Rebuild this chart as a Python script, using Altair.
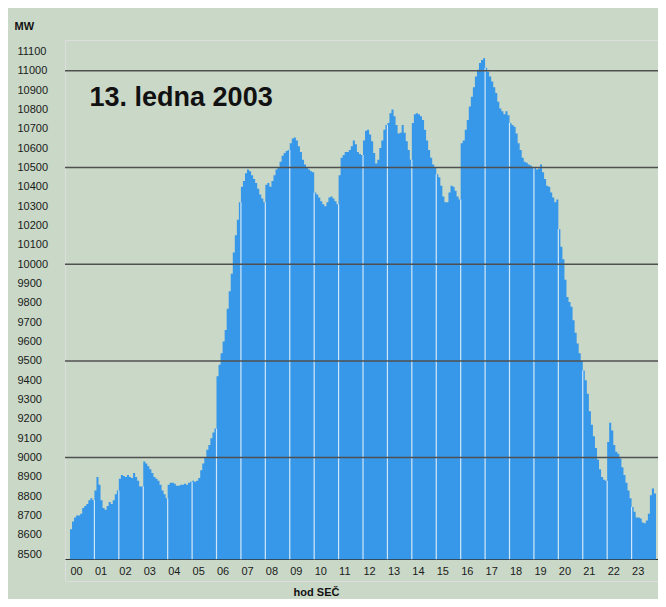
import altair as alt
import pandas as pd

# 5-minute load values (MW) per hour
h00 = [8630, 8670, 8690, 8700, 8700, 8710, 8740, 8750, 8760, 8780, 8790, 8780]
h01 = [8830, 8900, 8860, 8780, 8740, 8730, 8750, 8770, 8760, 8780, 8810, 8830]
h02 = [8890, 8910, 8905, 8900, 8910, 8900, 8895, 8920, 8900, 8880, 8850, 8850]
h03 = [8980, 8970, 8955, 8940, 8920, 8900, 8890, 8880, 8860, 8830, 8810, 8790]
h04 = [8860, 8870, 8870, 8865, 8855, 8855, 8860, 8860, 8865, 8860, 8870, 8875]
h05 = [8880, 8875, 8880, 8895, 8935, 8970, 9000, 9040, 9065, 9100, 9130, 9150]
h06 = [9420, 9480, 9540, 9600, 9660, 9770, 9860, 9950, 10060, 10150, 10230, 10320]
h07 = [10400, 10430, 10470, 10490, 10480, 10460, 10440, 10420, 10390, 10360, 10340, 10320]
h08 = [10410, 10420, 10400, 10430, 10460, 10490, 10500, 10530, 10560, 10575, 10585, 10590]
h09 = [10625, 10650, 10655, 10640, 10610, 10580, 10540, 10515, 10500, 10490, 10480, 10475]
h10 = [10370, 10360, 10345, 10325, 10310, 10300, 10320, 10345, 10350, 10340, 10325, 10310]
h11 = [10460, 10550, 10565, 10580, 10580, 10590, 10610, 10640, 10620, 10580, 10570, 10565]
h12 = [10640, 10690, 10695, 10670, 10635, 10575, 10520, 10540, 10600, 10640, 10695, 10720]
h13 = [10730, 10780, 10800, 10765, 10720, 10675, 10680, 10720, 10680, 10635, 10590, 10540]
h14 = [10730, 10775, 10780, 10775, 10765, 10745, 10695, 10640, 10590, 10550, 10515, 10500]
h15 = [10465, 10450, 10405, 10350, 10320, 10320, 10370, 10405, 10400, 10380, 10350, 10335]
h16 = [10625, 10640, 10695, 10745, 10815, 10865, 10915, 10970, 11005, 11040, 11055, 11065]
h17 = [11015, 10995, 10970, 10945, 10915, 10885, 10840, 10805, 10790, 10775, 10790, 10770]
h18 = [10730, 10720, 10710, 10675, 10625, 10590, 10550, 10530, 10525, 10515, 10510, 10500]
h19 = [10500, 10490, 10495, 10515, 10475, 10440, 10405, 10400, 10370, 10345, 10320, 10335]
h20 = [10180, 10090, 10025, 9920, 9830, 9805, 9780, 9710, 9645, 9590, 9540, 9500]
h21 = [9450, 9400, 9330, 9240, 9170, 9110, 9050, 8990, 8940, 8900, 8885, 8880]
h22 = [9080, 9180, 9140, 9065, 9030, 9020, 8995, 8950, 8910, 8870, 8830, 8790]
h23 = [8745, 8720, 8690, 8690, 8685, 8665, 8660, 8675, 8710, 8805, 8840, 8815]

hours = [h00, h01, h02, h03, h04, h05, h06, h07, h08, h09, h10, h11,
         h12, h13, h14, h15, h16, h17, h18, h19, h20, h21, h22, h23]

grid_values = [9000, 9500, 10000, 10500, 11000]
y_tick_values = list(range(8500, 11101, 100))
hour_ticks = [h * 60 for h in range(24)]
base_value = 8475
title_text = "13. ledna 2003"

# step-area rows: one per 5-minute value, plus a closing point for each hour
rows = []
for h, vals in enumerate(hours):
    for i, v in enumerate(vals):
        rows.append({"h": h, "t": h * 60 + i * 5, "v": v})
    rows.append({"h": h, "t": h * 60 + 60, "v": vals[-1]})
area_df = pd.DataFrame(rows)

gap_rows = []
for h in range(1, 24):
    gap_rows.append({"t": h * 60, "top": min(hours[h - 1][-1], hours[h][0])})
gaps_df = pd.DataFrame(gap_rows)

grid_df = pd.DataFrame({"g": grid_values})

xscale = alt.Scale(domain=[-12.3, 1444.9], nice=False, zero=False)
yscale = alt.Scale(domain=[8362, 11159], nice=False, zero=False)

x_axis = alt.Axis(
    values=hour_ticks,
    labelExpr="format(datum.value/60,'02d')",
    labelAlign="left", labelFlush=False, labelOverlap=False,
    ticks=False, grid=False, domain=True, domainColor="#333333", domainWidth=1,
    offset=-22, labelPadding=6, labelFontSize=11, labelColor="#1a1a1a",
    labelBaseline="top",
    title="hod SEČ", titleX=251, titleY=33, titleAlign="center",
    titleBaseline="middle", titleFontSize=11, titleFontWeight="bold",
    titleColor="#111111")

y_axis = alt.Axis(
    values=y_tick_values, format="d", labelOverlap=False,
    ticks=False, domain=False, grid=False,
    labelAlign="left", labelPadding=48, labelFontSize=11, labelColor="#1a1a1a",
    title="MW", titleAngle=0, titleX=-51, titleY=-14, titleAlign="left",
    titleBaseline="middle", titleFontSize=11, titleFontWeight="bold",
    titleColor="#111111")

BLUE = "#3797e8"

load = alt.Chart(area_df).mark_area(
    color=BLUE, opacity=1, interpolate="step-after"
).encode(
    x=alt.X("t:Q", scale=xscale, axis=x_axis),
    y=alt.Y("v:Q", scale=yscale, axis=y_axis),
    y2=alt.datum(base_value),
    detail="h:N",
)

gaps = alt.Chart(gaps_df).mark_rule(color="#cfe6f8", strokeWidth=1.2).encode(
    x=alt.X("t:Q", scale=xscale, axis=x_axis),
    y=alt.Y("top:Q", scale=yscale, axis=y_axis),
    y2=alt.datum(base_value),
)

grid = alt.Chart(grid_df).mark_rule(color="#505050", strokeWidth=1.5).encode(
    y=alt.Y("g:Q", scale=yscale, axis=y_axis),
)

label = alt.Chart(pd.DataFrame({"txt": [title_text]})).mark_text(
    align="left", baseline="middle", fontSize=27, fontWeight="bold", color="#111111"
).encode(
    x=alt.XDatum(48, axis=x_axis),
    y=alt.YDatum(10860, axis=y_axis),
    text="txt:N",
)

chart = alt.layer(load, gaps, grid, label).properties(
    width=593,
    height=541,
    background="#c9d8c7",
    padding={"left": 57, "top": 32, "right": 0, "bottom": 18},
    autosize=alt.AutoSizeParams(type="none"),
).configure_view(
    fill="#ebebe8", strokeWidth=0
).configure(
    font="Liberation Sans"
)

chart.save("out.html", embed_options={"renderer": "svg", "actions": False})
